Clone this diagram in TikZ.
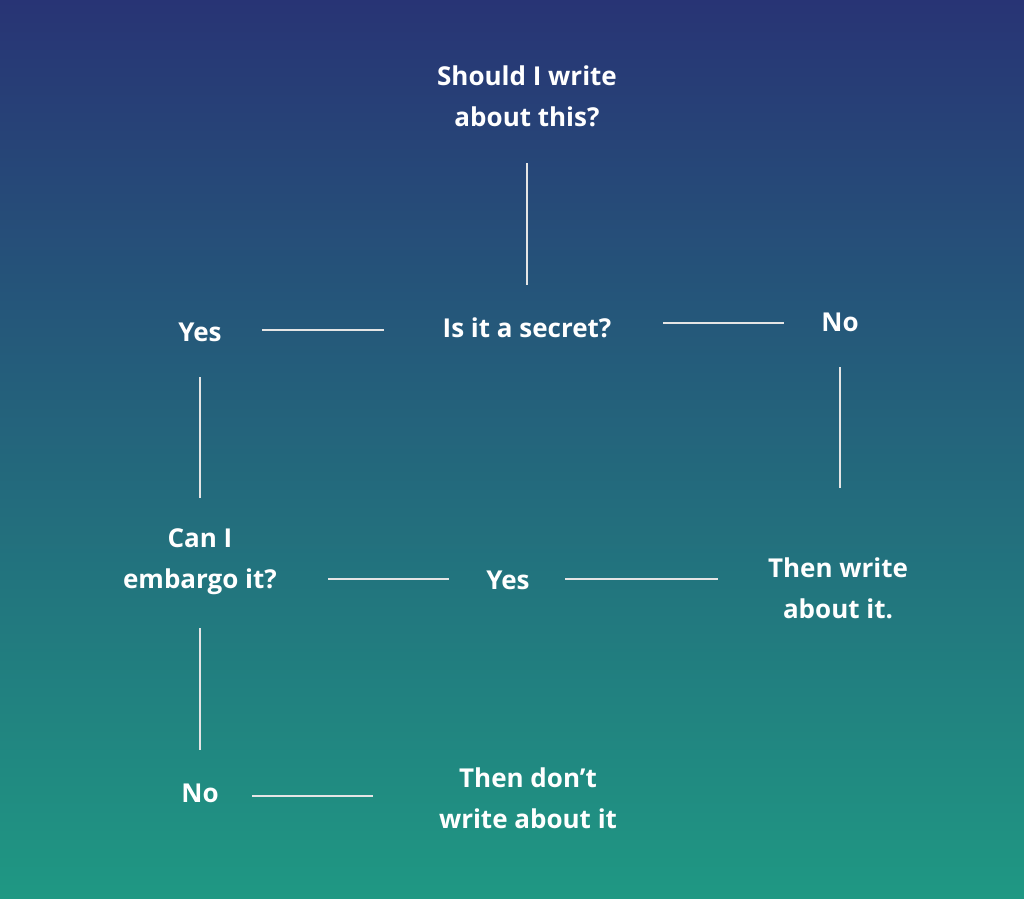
\documentclass[tikz,border=0pt]{standalone}
\usepackage{fontspec}
\setmainfont{Open Sans}[BoldFont={* Bold}]
\definecolor{topc}{HTML}{283475}
\definecolor{botc}{HTML}{1F9883}
\begin{document}
\begin{tikzpicture}[x=1pt,y=-1pt,
  lbl/.style={text=white,font=\bfseries\fontsize{26}{41}\selectfont,align=center,inner sep=0pt},
  conn/.style={draw=white!80!gray,line width=1.2pt}]
\shade[top color=topc,bottom color=botc] (0,0) rectangle (1024,898);
\useasboundingbox (0,0) rectangle (1024,898);
\node[lbl] (q1) at (527,96) {Should I write\\about this?};
\node[lbl] (q2) at (527,328) {Is it a secret?};
\node[lbl] (y1) at (200,332) {Yes};
\node[lbl] (n1) at (840,322) {No};
\node[lbl] (q3) at (200,562) {Can I\\embargo it?};
\node[lbl] (y2) at (508,580) {Yes};
\node[lbl] (a1) at (838,588) {Then write\\about it.};
\node[lbl] (n2) at (200,793) {No};
\node[lbl] (a2) at (528,798) {Then don’t\\write about it};
\draw[conn] (q1.south |- 0,163) -- (q1.south |- 0,285);
\draw[conn] (262,330) coordinate(c1) -- (384,330) coordinate(c2);
\draw[conn] (663,323) coordinate(c3) -- (784,323) coordinate(c4);
\draw[conn] (y1.south |- 0,377) -- (y1.south |- 0,498);
\draw[conn] (n1.south |- 0,367) -- (n1.south |- 0,488);
\draw[conn] (328,579) coordinate(c5) -- (449,579) coordinate(c6);
\draw[conn] (565,579) coordinate(c7) -- (718,579) coordinate(c8);
\draw[conn] (q3.south |- 0,628) -- (q3.south |- 0,750);
\draw[conn] (252,796) coordinate(c9) -- (373,796) coordinate(c10);
\end{tikzpicture}
\end{document}
